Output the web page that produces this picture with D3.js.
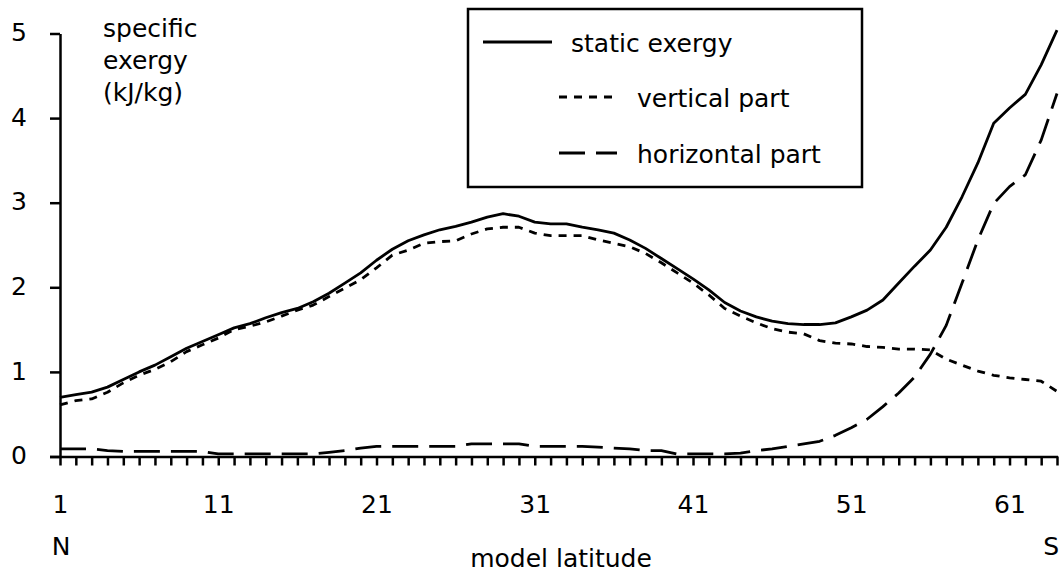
<!DOCTYPE html>
<html>
<head>
<meta charset="utf-8">
<script src="https://cdn.jsdelivr.net/npm/d3@7"></script>
<style>
  html, body { margin: 0; padding: 0; background: #fff; }
  svg { display: block; font-family: "DejaVu Sans", sans-serif; }
</style>
</head>
<body>
<svg id="chart" width="1061" height="575"></svg>
<script>
// model latitude index, 1 (N) .. 64 (S)
const latitude = d3.range(1, 65);

// specific exergy in kJ/kg
const staticExergy = [
  0.70, 0.73, 0.76, 0.82, 0.91, 1.00, 1.08, 1.18, 1.28, 1.36,
  1.44, 1.52, 1.57, 1.64, 1.70, 1.75, 1.83, 1.93, 2.05, 2.17,
  2.32, 2.45, 2.55, 2.62, 2.68, 2.72, 2.77, 2.83, 2.87, 2.84,
  2.77, 2.75, 2.75, 2.71, 2.68, 2.64, 2.56, 2.46, 2.34, 2.22,
  2.10, 1.97, 1.82, 1.72, 1.65, 1.60, 1.57, 1.56, 1.56, 1.58,
  1.65, 1.73, 1.85, 2.05, 2.25, 2.44, 2.71, 3.07, 3.47, 3.94,
  4.12, 4.28, 4.63, 5.04
];

const verticalPart = [
  0.61, 0.66, 0.68, 0.76, 0.87, 0.96, 1.03, 1.12, 1.24, 1.32,
  1.40, 1.50, 1.54, 1.59, 1.66, 1.73, 1.79, 1.89, 1.99, 2.09,
  2.23, 2.38, 2.44, 2.52, 2.54, 2.55, 2.63, 2.69, 2.71, 2.71,
  2.64, 2.61, 2.61, 2.61, 2.56, 2.52, 2.48, 2.40, 2.29, 2.17,
  2.05, 1.91, 1.75, 1.66, 1.58, 1.51, 1.47, 1.45, 1.37, 1.34,
  1.33, 1.30, 1.29, 1.27, 1.27, 1.26, 1.15, 1.08, 1.01, 0.96,
  0.93, 0.91, 0.89, 0.77
];

const horizontalPart = [
  0.09, 0.09, 0.09, 0.07, 0.06, 0.06, 0.06, 0.06, 0.06, 0.06,
  0.03, 0.03, 0.03, 0.03, 0.03, 0.03, 0.03, 0.05, 0.07, 0.10,
  0.12, 0.12, 0.12, 0.12, 0.12, 0.12, 0.15, 0.15, 0.15, 0.15,
  0.12, 0.12, 0.12, 0.12, 0.11, 0.10, 0.09, 0.07, 0.07, 0.03,
  0.03, 0.03, 0.03, 0.04, 0.07, 0.09, 0.12, 0.15, 0.18, 0.25,
  0.34, 0.44, 0.59, 0.75, 0.94, 1.21, 1.55, 2.05, 2.56, 2.99,
  3.19, 3.33, 3.74, 4.29
];

const yTicks = [0, 1, 2, 3, 4, 5];
const xLabelTicks = [1, 11, 21, 31, 41, 51, 61];

const seriesList = [
  { name: "static exergy",   values: staticExergy,   dash: null },
  { name: "vertical part",   values: verticalPart,   dash: "8,7" },
  { name: "horizontal part", values: horizontalPart, dash: "26,11" }
];

const svg = d3.select("#chart");
const FONT = 25;
const AXIS_W = 2.5;
const LINE_W = 2.8;

const x = d3.scaleLinear().domain([1, 64]).range([60, 1057]);
const y = d3.scaleLinear().domain([0, 5]).range([456.5, 33.5]);

// y axis: integer ticks pointing left
const yAxis = svg.append("g")
  .attr("transform", `translate(${x(1)},0)`)
  .call(d3.axisLeft(y).tickValues(yTicks).tickSize(10).tickSizeOuter(0).tickFormat(d3.format("d")));
yAxis.select(".domain").attr("stroke-width", AXIS_W);
yAxis.selectAll(".tick line").attr("stroke-width", AXIS_W);
yAxis.selectAll(".tick text")
  .attr("x", -33).attr("dy", "0.29em")
  .attr("font-size", FONT).attr("font-family", "DejaVu Sans").attr("fill", "#000");

// x axis: a tick at every latitude, labels every tenth
const xAxis = svg.append("g")
  .attr("transform", `translate(0,${y(0)})`)
  .call(d3.axisBottom(x).tickValues(latitude).tickSize(9).tickSizeOuter(0)
    .tickFormat(d => xLabelTicks.includes(d) ? String(d) : ""));
xAxis.select(".domain").attr("stroke-width", AXIS_W)
  .attr("d", `M${x(1) - 10},0.5H${x(64) + 1}`);
xAxis.selectAll(".tick line").attr("stroke-width", AXIS_W);
xAxis.selectAll(".tick text")
  .attr("y", 56).attr("dy", 0)
  .attr("font-size", FONT).attr("font-family", "DejaVu Sans").attr("fill", "#000");

// series lines
const line = d3.line()
  .x((d, i) => x(latitude[i]))
  .y(d => y(d));

svg.append("g").selectAll("path")
  .data(seriesList)
  .join("path")
  .attr("d", s => line(s.values))
  .attr("fill", "none")
  .attr("stroke", "#000")
  .attr("stroke-width", LINE_W)
  .attr("stroke-linejoin", "round")
  .attr("stroke-dasharray", s => s.dash);

// axis titles and hemisphere markers
const text = (t, px, py, anchor) => svg.append("text")
  .attr("x", px).attr("y", py)
  .attr("text-anchor", anchor || "start")
  .attr("font-size", FONT)
  .text(t);

text("specific", 103, 37);
text("exergy", 103, 69);
text("(kJ/kg)", 103, 101);
text("N", 61, 555, "middle");
text("S", 1059, 555, "end");
text("model latitude", 561, 567, "middle");

// legend
const legend = svg.append("g");
legend.append("rect")
  .attr("x", 468).attr("y", 9).attr("width", 394).attr("height", 178)
  .attr("fill", "#fff").attr("stroke", "#000").attr("stroke-width", AXIS_W);

const legendRows = [
  { x1: 483, x2: 552, ly: 42,  tx: 571, ty: 52 },
  { x1: 559, x2: 617, ly: 97,  tx: 637, ty: 107 },
  { x1: 559, x2: 617, ly: 153, tx: 637, ty: 163 }
];
seriesList.forEach((s, i) => {
  const r = legendRows[i];
  legend.append("line")
    .attr("x1", r.x1).attr("x2", r.x2).attr("y1", r.ly).attr("y2", r.ly)
    .attr("stroke", "#000").attr("stroke-width", LINE_W)
    .attr("stroke-dasharray", s.dash);
  legend.append("text")
    .attr("x", r.tx).attr("y", r.ty)
    .attr("font-size", FONT)
    .text(s.name);
});
</script>
</body>
</html>
